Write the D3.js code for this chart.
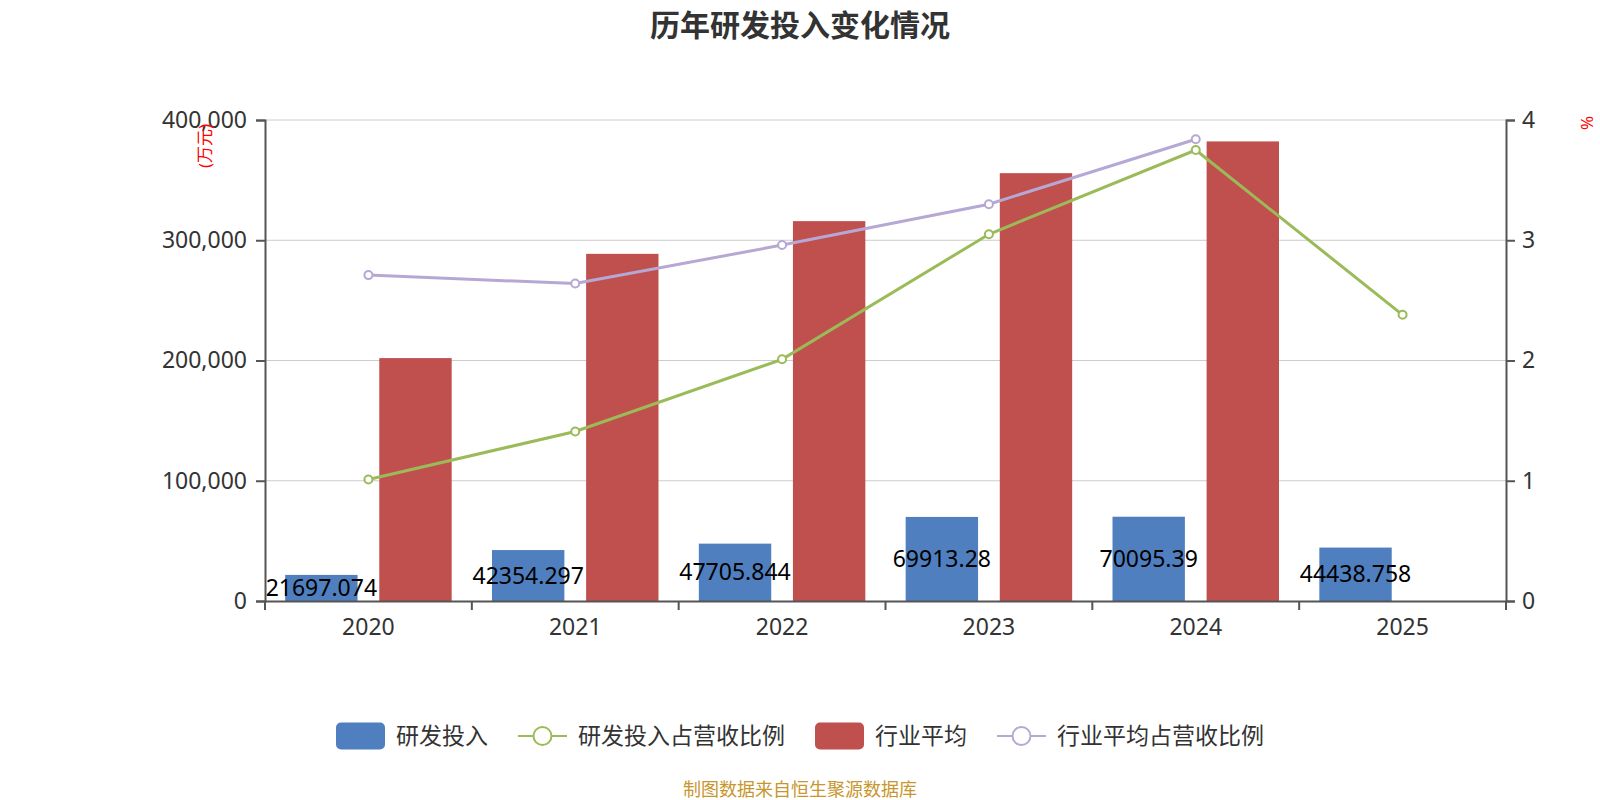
<!DOCTYPE html>
<html>
<head>
<meta charset="utf-8">
<script src="https://cdn.jsdelivr.net/npm/d3@7"></script>
<style>
    body { margin: 0; background: #fff; }
    svg { display: block; }
    svg text { font-family: "Noto Sans", "Noto Sans CJK SC", sans-serif; }
</style>
</head>
<body>
<div id="chart"></div>
<script>
let years = ["2020", "2021", "2022", "2023", "2024", "2025"];
let yanfa = [21697.074, 42354.297, 47705.844, 69913.28, 70095.39, 44438.758];
let hangye = [202000, 288700, 315900, 355800, 382200, null];
let yanfaPct = [1.01, 1.41, 2.01, 3.05, 3.75, 2.38];
let hangyePct = [2.71, 2.64, 2.96, 3.30, 3.84, null];
let leftTicks = [0, 100000, 200000, 300000, 400000];
let rightTicks = [0, 1, 2, 3, 4];
let legendNames = ["研发投入", "研发投入占营收比例", "行业平均", "行业平均占营收比例"];

let W = 1600, H = 800;
let margin = {top: 120, right: 94, bottom: 199, left: 265};
let width = W - margin.left - margin.right,
    height = H - margin.top - margin.bottom;

let cBlue = "#4f7fbf", cRed = "#c0504d", cGreen = "#9bbb59", cPurple = "#b6a8d4";

let svg = d3.select("#chart")
    .append("svg")
    .attr("width", W)
    .attr("height", H);

svg.append("text")
    .attr("x", W / 2)
    .attr("y", 36)
    .attr("text-anchor", "middle")
    .style("font-size", "30px")
    .style("font-weight", "bold")
    .style("fill", "#333")
    .text("历年研发投入变化情况");

let g = svg.append("g")
    .attr("transform", "translate(" + margin.left + "," + margin.top + ")");

let x = d3.scaleBand()
    .domain(years)
    .range([0, width]);

let y = d3.scaleLinear()
    .domain([0, 400000])
    .range([height, 0]);

let y2 = d3.scaleLinear()
    .domain([0, 4])
    .range([height, 0]);

let bw = x.bandwidth() * 0.35;
let gap = bw * 0.3;
let off = (x.bandwidth() - 2 * bw - gap) / 2;

// grid
g.append("g")
    .selectAll("line")
    .data(leftTicks.slice(1))
    .enter()
    .append("line")
    .attr("x1", 0)
    .attr("x2", width)
    .attr("y1", d => y(d))
    .attr("y2", d => y(d))
    .style("stroke", "#cccccc")
    .style("stroke-width", 1);

// bars
g.append("g")
    .selectAll("rect")
    .data(years)
    .enter()
    .append("rect")
    .attr("x", d => x(d) + off)
    .attr("y", (d, i) => y(yanfa[i]))
    .attr("width", bw)
    .attr("height", (d, i) => height - y(yanfa[i]))
    .style("fill", cBlue);

g.append("g")
    .selectAll("rect")
    .data(years.filter((d, i) => hangye[i] != null))
    .enter()
    .append("rect")
    .attr("x", d => x(d) + off + bw + gap)
    .attr("y", (d, i) => y(hangye[i]))
    .attr("width", bw)
    .attr("height", (d, i) => height - y(hangye[i]))
    .style("fill", cRed);

// axes
let axisColor = "#555";
function styleAxis(a) {
    a.attr("font-family", null);
    a.selectAll("text").style("font-size", "23px").style("fill", "#333");
    a.selectAll("line, .domain").style("stroke", axisColor).style("stroke-width", 2);
}

let ax = g.append("g")
    .attr("transform", "translate(0," + height + ")")
    .call(d3.axisBottom(x).tickSize(0).tickPadding(18));
styleAxis(ax);
ax.append("g")
    .selectAll("line")
    .data(d3.range(years.length + 1))
    .enter()
    .append("line")
    .attr("x1", d => d * x.step())
    .attr("x2", d => d * x.step())
    .attr("y1", 0)
    .attr("y2", 9)
    .style("stroke", axisColor)
    .style("stroke-width", 2);

let ay = g.append("g")
    .call(d3.axisLeft(y).tickValues(leftTicks).tickSize(9).tickPadding(9).tickFormat(d3.format(",")));
styleAxis(ay);

let ay2 = g.append("g")
    .attr("transform", "translate(" + width + ",0)")
    .call(d3.axisRight(y2).tickValues(rightTicks).tickSize(9).tickPadding(7).tickFormat(d3.format("d")));
styleAxis(ay2);

// axis names
g.append("text")
    .attr("transform", "translate(-60,26) rotate(-90)")
    .attr("text-anchor", "middle")
    .attr("dy", "0.35em")
    .style("font-size", "17px")
    .style("fill", "red")
    .text("(万元)");

g.append("text")
    .attr("transform", "translate(" + (width + 81) + ",3) rotate(-90)")
    .attr("text-anchor", "middle")
    .attr("dy", "0.35em")
    .style("font-size", "17px")
    .style("fill", "red")
    .text("%");

// lines
function drawLine(vals, color) {
    let pts = years.map((d, i) => [x(d) + x.bandwidth() / 2, vals[i]]).filter(p => p[1] != null);
    g.append("path")
        .datum(pts)
        .attr("d", d3.line().x(p => p[0]).y(p => y2(p[1])))
        .style("fill", "none")
        .style("stroke", color)
        .style("stroke-width", 3);
    g.append("g")
        .selectAll("circle")
        .data(pts)
        .enter()
        .append("circle")
        .attr("cx", p => p[0])
        .attr("cy", p => y2(p[1]))
        .attr("r", 4)
        .style("fill", "#fff")
        .style("stroke", color)
        .style("stroke-width", 2);
}
drawLine(hangyePct, cPurple);
drawLine(yanfaPct, cGreen);

// bar labels
g.append("g")
    .selectAll("text")
    .data(years)
    .enter()
    .append("text")
    .attr("x", d => x(d) + off + bw / 2)
    .attr("y", (d, i) => (y(yanfa[i]) + height) / 2)
    .attr("dy", "0.35em")
    .attr("text-anchor", "middle")
    .style("font-size", "23px")
    .style("fill", "#000")
    .text((d, i) => yanfa[i]);

// legend
let legendColors = [cBlue, cGreen, cRed, cPurple];
let legendLine = [false, true, false, true];
let lg = svg.append("g");
let lx = 0;
legendNames.forEach(function (name, i) {
    let item = lg.append("g").attr("transform", "translate(" + lx + ",0)");
    if (legendLine[i]) {
        item.append("line")
            .attr("x1", 0).attr("x2", 49).attr("y1", 0).attr("y2", 0)
            .style("stroke", legendColors[i]).style("stroke-width", 2);
        item.append("circle")
            .attr("cx", 24.5).attr("cy", 0).attr("r", 9)
            .style("fill", "#fff").style("stroke", legendColors[i]).style("stroke-width", 2);
    } else {
        item.append("rect")
            .attr("x", 0).attr("y", -13.5).attr("width", 49).attr("height", 27)
            .attr("rx", 5)
            .style("fill", legendColors[i]);
    }
    let t = item.append("text")
        .attr("x", 60)
        .attr("dy", "0.35em")
        .style("font-size", "23px")
        .style("fill", "#333")
        .text(name);
    lx += 60 + t.node().getComputedTextLength() + 30;
});
lx -= 30;
lg.attr("transform", "translate(" + (W / 2 - lx / 2) + ",736)");

svg.append("text")
    .attr("x", W / 2)
    .attr("y", 796)
    .attr("text-anchor", "middle")
    .style("font-size", "18px")
    .style("fill", "#c8962e")
    .text("制图数据来自恒生聚源数据库");
</script>
</body>
</html>
